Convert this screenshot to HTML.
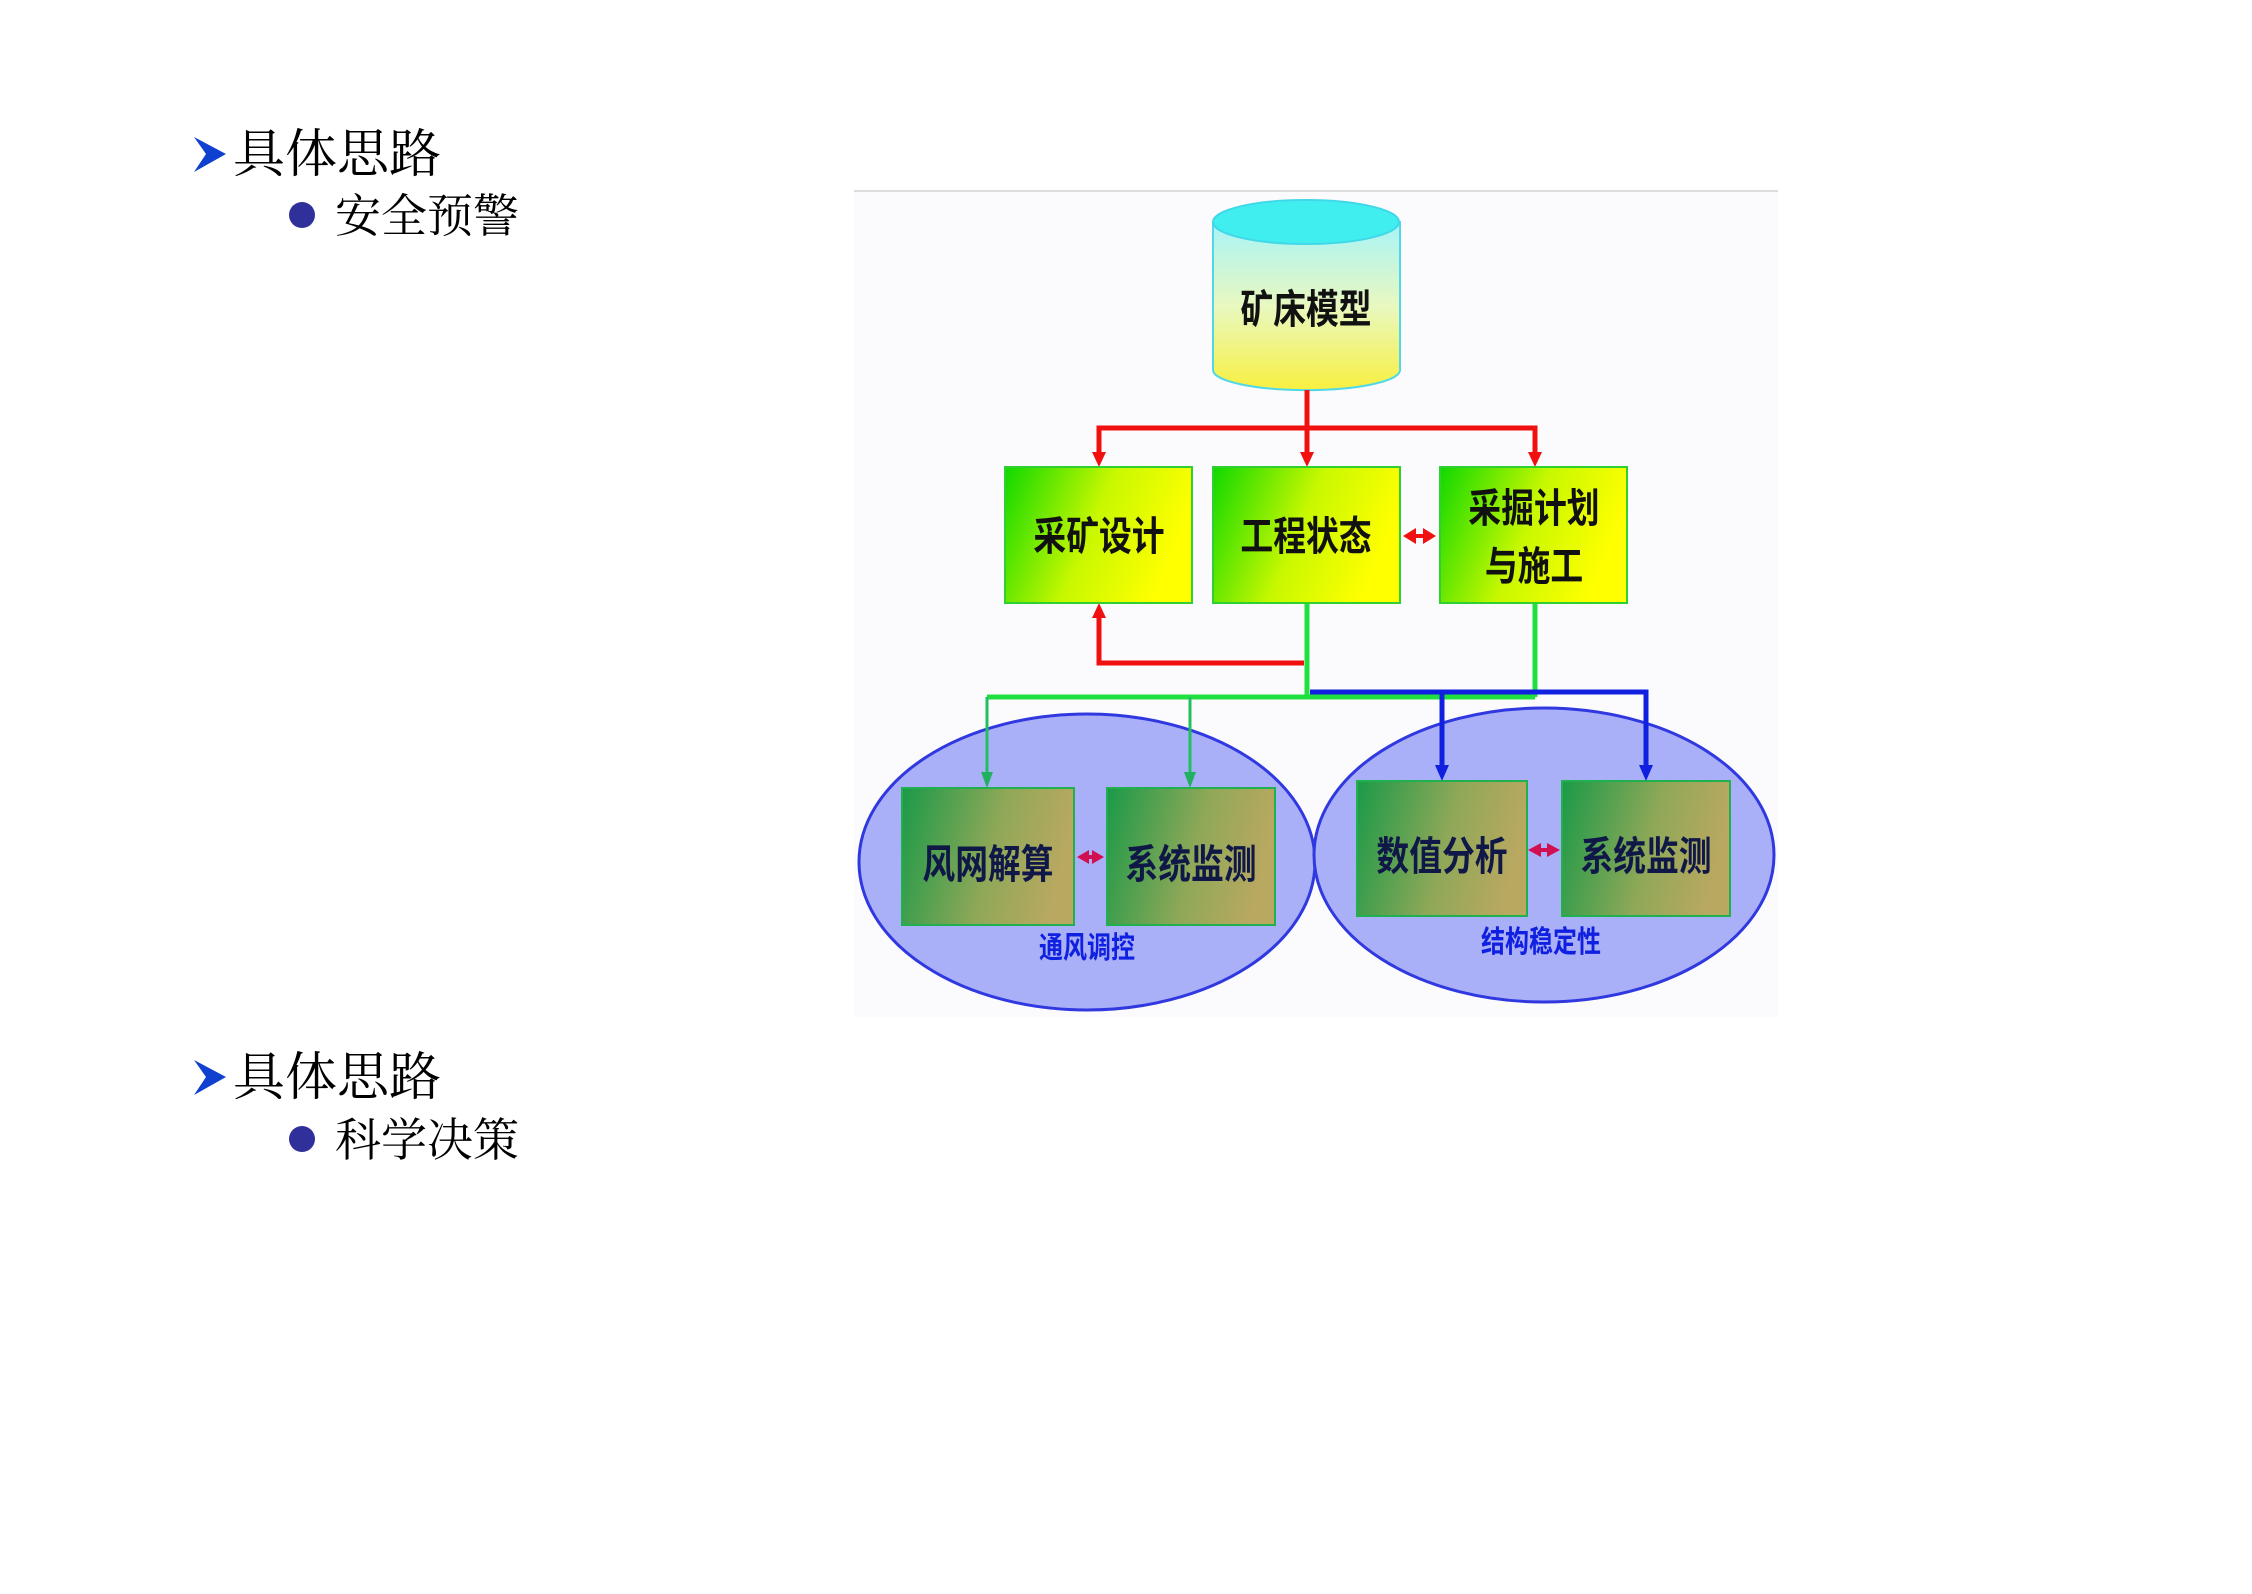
<!DOCTYPE html>
<html><head><meta charset="utf-8"><style>
html,body{margin:0;padding:0;background:#fff;}
body{width:2252px;height:1594px;overflow:hidden;}
svg{display:block;}
</style></head><body>
<svg width="2252" height="1594" viewBox="0 0 2252 1594" xmlns="http://www.w3.org/2000/svg">
<defs>
<linearGradient id="cyl" x1="0" y1="0" x2="0" y2="1"><stop offset="0" stop-color="#a8f4f8"/><stop offset="0.5" stop-color="#e8f8c0"/><stop offset="1" stop-color="#f8f040"/></linearGradient>
<linearGradient id="gy" x1="0" y1="0" x2="1" y2="0.3"><stop offset="0" stop-color="#10d800"/><stop offset="0.55" stop-color="#c8f800"/><stop offset="1" stop-color="#ffff00"/></linearGradient>
<linearGradient id="go" x1="0" y1="0" x2="1" y2="0.2"><stop offset="0" stop-color="#1a9a48"/><stop offset="0.6" stop-color="#90a858"/><stop offset="1" stop-color="#b8a860"/></linearGradient>
<marker id="ar" markerWidth="8" markerHeight="8" refX="7" refY="4" orient="auto" markerUnits="userSpaceOnUse"><path d="M0,0 L8,4 L0,8z" fill="#f01010"/></marker>
</defs>
<g font-family="'Liberation Serif','Noto Serif CJK SC',serif" fill="#000">
<path d="M194,137 L226,154 L194,172 L206,154z" fill="#1040d0"/>
<text x="233" y="172" font-size="52">具体思路</text>
<circle cx="302" cy="215" r="13" fill="#30309a"/>
<text x="335" y="232" font-size="46">安全预警</text>
<path d="M194,1060 L226,1077 L194,1095 L206,1077z" fill="#1040d0"/>
<text x="233" y="1095" font-size="52">具体思路</text>
<circle cx="302" cy="1139" r="13" fill="#30309a"/>
<text x="335" y="1156" font-size="46">科学决策</text>
</g>
<rect x="854" y="191" width="924" height="826" fill="#fbfbfd"/>
<line x1="854" y1="191" x2="1778" y2="191" stroke="#ddd" stroke-width="2"/>
<!-- cylinder -->
<path d="M1213,222 L1213,370 A93,20 0 0 0 1400,370 L1400,222z" fill="url(#cyl)" stroke="#50d8e8" stroke-width="2"/>
<ellipse cx="1306" cy="222" rx="93" ry="22" fill="#40eef0" stroke="#40d8e8" stroke-width="2"/>
<!-- red lines -->
<g stroke="#f01010" stroke-width="5" fill="none">
<path d="M1307,390 V428 M1099,460 V428 H1535 V460 M1307,428 V460"/>
<path d="M1304,663 H1099 V615"/>
</g>
<g fill="#f01010">
<path d="M1092,452 L1106,452 L1099,467z"/><path d="M1300,452 L1314,452 L1307,467z"/><path d="M1528,452 L1542,452 L1535,467z"/>
<path d="M1092,618 L1106,618 L1099,603z"/>
<path d="M1403,536 L1416,528 L1416,544z M1436,536 L1423,528 L1423,544z"/><rect x="1414" y="534" width="10" height="4"/>
</g>
<!-- ellipses -->
<ellipse cx="1087" cy="862" rx="228" ry="148" fill="#aab0f8" stroke="#3038e0" stroke-width="3"/>
<ellipse cx="1544" cy="855" rx="230" ry="147" fill="#aab0f8" stroke="#3038e0" stroke-width="3"/>
<!-- green lines -->
<g stroke="#20e040" stroke-width="5" fill="none">
<path d="M1307,603 V697 M1535,603 V697 M987,697 H1535"/>
</g>
<g stroke="#20c060" stroke-width="3" fill="none"><path d="M987,697 V778 M1190,697 V778"/></g>
<g fill="#20b060"><path d="M981,772 L993,772 L987,788z"/><path d="M1184,772 L1196,772 L1190,788z"/></g>
<!-- blue lines -->
<g stroke="#1020e0" stroke-width="5" fill="none"><path d="M1310,692 H1646 V770 M1442,692 V770"/></g>
<g fill="#1020e0"><path d="M1435,765 L1449,765 L1442,781z"/><path d="M1639,765 L1653,765 L1646,781z"/></g>
<!-- boxes -->
<g stroke="#30d030" stroke-width="2">
<rect x="1005" y="467" width="187" height="136" fill="url(#gy)"/>
<rect x="1213" y="467" width="187" height="136" fill="url(#gy)"/>
<rect x="1440" y="467" width="187" height="136" fill="url(#gy)"/>
</g>
<g stroke="#20b050" stroke-width="2">
<rect x="902" y="788" width="172" height="137" fill="url(#go)"/>
<rect x="1107" y="788" width="168" height="137" fill="url(#go)"/>
<rect x="1357" y="781" width="170" height="135" fill="url(#go)"/>
<rect x="1562" y="781" width="168" height="135" fill="url(#go)"/>
</g>
<g fill="#d01050">
<path d="M1077,857 L1089,850 L1089,864z M1104,857 L1092,850 L1092,864z"/><rect x="1087" y="855" width="7" height="4"/>
<path d="M1528,850 L1541,843 L1541,857z M1560,850 L1547,843 L1547,857z"/><rect x="1539" y="848" width="10" height="4"/>
</g>
<!-- texts -->
<g font-family="'Liberation Sans','Noto Sans CJK SC',sans-serif" font-weight="bold" font-size="40" text-anchor="middle" fill="#111">
<text transform="translate(1306,323) scale(0.82,1)">矿床模型</text>
<text transform="translate(1099,550) scale(0.82,1)">采矿设计</text>
<text transform="translate(1306,550) scale(0.82,1)">工程状态</text>
<text transform="translate(1534,522) scale(0.82,1)">采掘计划</text>
<text transform="translate(1534,580) scale(0.82,1)">与施工</text>
<g fill="#101848">
<text transform="translate(988,878) scale(0.82,1)">风网解算</text>
<text transform="translate(1191,878) scale(0.82,1)">系统监测</text>
<text transform="translate(1442,870) scale(0.82,1)">数值分析</text>
<text transform="translate(1646,870) scale(0.82,1)">系统监测</text>
</g>
<g fill="#1020e0" font-size="30">
<text transform="translate(1087,958) scale(0.8,1)">通风调控</text>
<text transform="translate(1541,952) scale(0.8,1)">结构稳定性</text>
</g>
</g>
</svg>
</body></html>
